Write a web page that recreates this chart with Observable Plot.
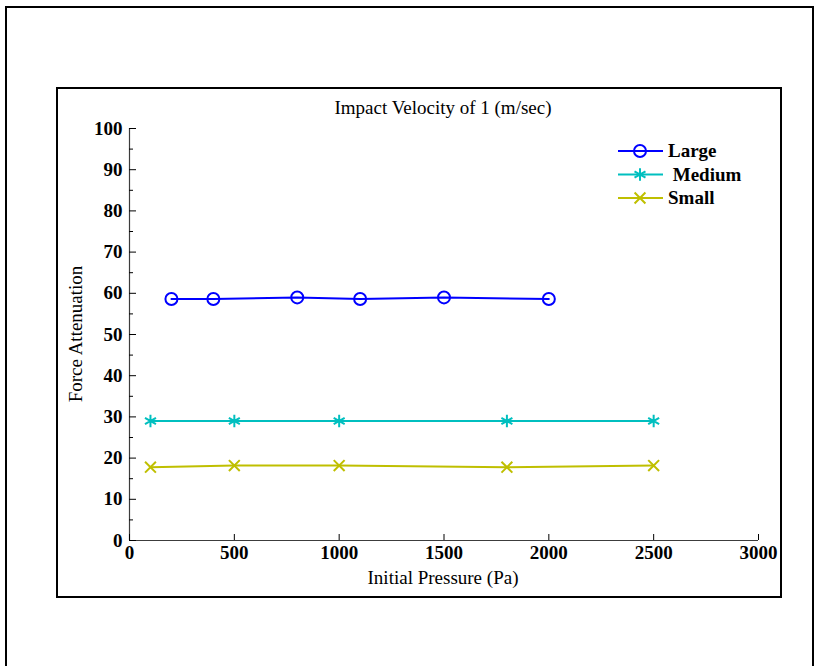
<!DOCTYPE html>
<html>
<head>
<meta charset="utf-8">
<script src="https://cdn.jsdelivr.net/npm/d3@7"></script>
<script src="https://cdn.jsdelivr.net/npm/@observablehq/plot@0.6"></script>
<style>
  body { margin: 0; background: #fff; }
  #chart { position: relative; width: 821px; height: 666px; overflow: hidden; }
</style>
</head>
<body>
<div id="chart"></div>
<script>
// Chart text
const titleText = "Impact Velocity of 1 (m/sec)";
const xLabel = "Initial Pressure (Pa)";
const yLabel = "Force Attenuation";

// Series
const seriesNames = ["Large", "Medium", "Small"];
const legendLabels = ["Large", " Medium", "Small"];
const seriesColors = ["#0000ff", "#00bfbf", "#bfbf00"];
const seriesSymbols = ["circle", "asterisk", "times"];

const largePressure = [200, 400, 800, 1100, 1500, 2000];
const largeAttenuation = [58.6, 58.6, 59.0, 58.6, 59.0, 58.6];
const mediumPressure = [100, 500, 1000, 1800, 2500];
const mediumAttenuation = [29, 29, 29, 29, 29];
const smallPressure = [100, 500, 1000, 1800, 2500];
const smallAttenuation = [17.8, 18.2, 18.2, 17.8, 18.2];

// Ticks
const xTicks = [0, 500, 1000, 1500, 2000, 2500, 3000];
const yTicks = [0, 10, 20, 30, 40, 50, 60, 70, 80, 90, 100];
const yMinorTicks = [5, 15, 25, 35, 45, 55, 65, 75, 85, 95];

const seriesData = [
  [largePressure, largeAttenuation],
  [mediumPressure, mediumAttenuation],
  [smallPressure, smallAttenuation]
];
const rows = seriesNames.flatMap((name, i) =>
  seriesData[i][0].map((p, j) => ({series: name, pressure: p, attenuation: seriesData[i][1][j]}))
);

const markerRadius = {Large: 6, Medium: 6, Small: 5};
const serif = "'Liberation Serif', 'Times New Roman', serif";

const plot = Plot.plot({
  width: 821,
  height: 666,
  marginLeft: 129,
  marginRight: 63,
  marginTop: 128,
  marginBottom: 126,
  style: {fontFamily: serif, fontSize: "19px", fontWeight: "bold", background: "#fff", color: "#000"},
  x: {domain: [0, 3000]},
  y: {domain: [0, 100]},
  color: {domain: seriesNames, range: seriesColors},
  symbol: {domain: seriesNames, range: seriesSymbols},
  marks: [
    Plot.ruleY([0], {stroke: "#3c3c3c", strokeWidth: 1.2}),
    Plot.ruleX([0], {stroke: "#3c3c3c", strokeWidth: 1.2}),
    Plot.axisX(xTicks, {tickSize: -6, tickPadding: 11, label: null, tickFormat: d => String(d)}),
    Plot.axisY(yTicks, {tickSize: -7, tickPadding: 14, label: null}),
    Plot.axisY(yMinorTicks, {tickSize: -4, text: null, label: null}),
    Plot.line(rows, {x: "pressure", y: "attenuation", z: "series", stroke: "series", strokeWidth: 2}),
    ...seriesNames.map(name =>
      Plot.dot(rows.filter(d => d.series === name), {
        x: "pressure", y: "attenuation", stroke: "series", symbol: "series",
        r: markerRadius[name], strokeWidth: 2, fill: "none"
      })
    )
  ]
});

document.getElementById("chart").appendChild(plot);

// Frames, title, axis labels and legend
const svg = d3.select(plot);

svg.insert("rect", ":first-child")
  .attr("x", 6).attr("y", 7).attr("width", 807).attr("height", 700)
  .attr("fill", "none").attr("stroke", "#000").attr("stroke-width", 2);
svg.insert("rect", ":first-child")
  .attr("x", 57).attr("y", 88).attr("width", 724).attr("height", 509)
  .attr("fill", "none").attr("stroke", "#000").attr("stroke-width", 2);

const textGroup = svg.append("g")
  .attr("font-family", serif).attr("font-weight", "normal").attr("fill", "#000")
  .attr("text-anchor", "middle").attr("font-size", 19);
textGroup.append("text")
  .attr("x", 443).attr("y", 114)
  .text(titleText);
textGroup.append("text")
  .attr("x", 443).attr("y", 584)
  .text(xLabel);
textGroup.append("text")
  .attr("transform", "translate(82,334) rotate(-90)")
  .text(yLabel);

const legend = svg.append("g")
  .attr("font-family", serif).attr("font-weight", "bold").attr("font-size", 19)
  .attr("text-anchor", "start");
const symbolTypes = {circle: d3.symbolCircle, asterisk: d3.symbolAsterisk, times: d3.symbolTimes};
seriesNames.forEach((name, i) => {
  const cy = 151 + i * 23.5;
  const row = legend.append("g").attr("transform", `translate(0,${cy})`);
  row.append("line").attr("x1", 618).attr("x2", 663).attr("y1", 0).attr("y2", 0)
    .attr("stroke", seriesColors[i]).attr("stroke-width", 2);
  const r = markerRadius[name];
  row.append("path")
    .attr("transform", "translate(640,0)")
    .attr("d", d3.symbol(symbolTypes[seriesSymbols[i]], Math.PI * r * r)())
    .attr("fill", "none").attr("stroke", seriesColors[i]).attr("stroke-width", 2);
  row.append("text").attr("x", 668).attr("y", 0).attr("dy", "0.32em")
    .style("white-space", "pre").attr("fill", "#000")
    .text(legendLabels[i]);
});
</script>
</body>
</html>
